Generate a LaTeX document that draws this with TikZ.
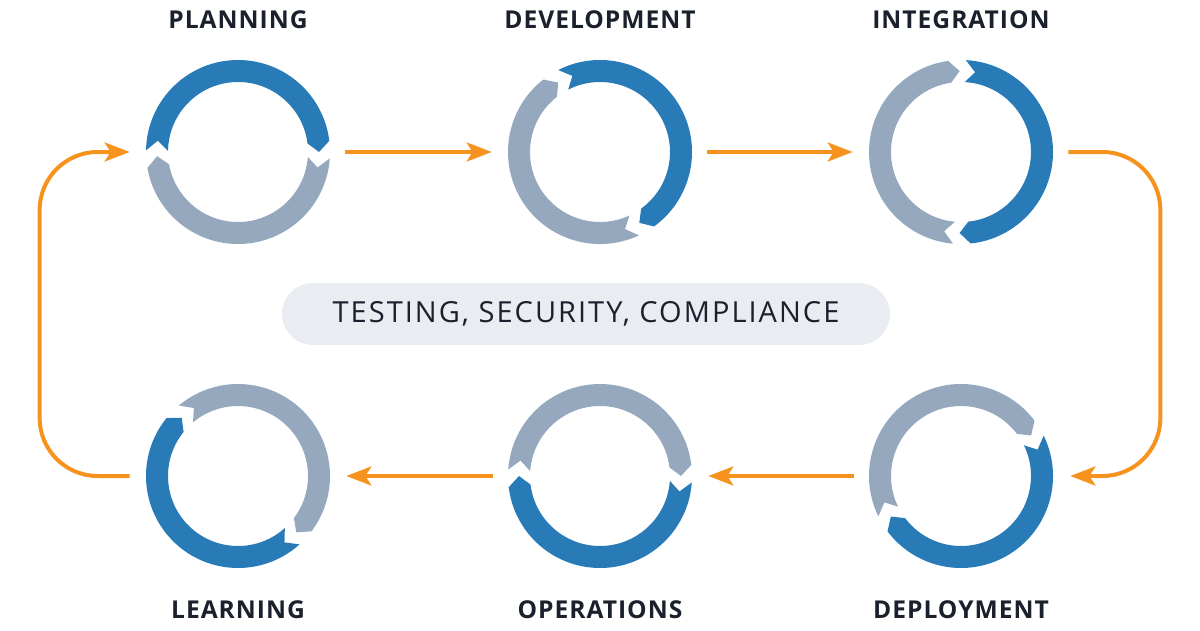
\documentclass[tikz,border=0pt]{standalone}
\usepackage{fontspec}
\setmainfont{Open Sans}
\usetikzlibrary{calc,arrows.meta}

\definecolor{ringblue}{RGB}{41,123,184}
\definecolor{ringgray}{RGB}{150,168,190}
\definecolor{floworange}{RGB}{246,146,30}
\definecolor{pillbg}{RGB}{233,236,241}
\definecolor{labtext}{RGB}{27,32,45}

% one chevron arrow on a ring: node, tail angle, end angle, colour
\newcommand{\ringarrow}[4]{%
	\fill[#4] ($(#1)+(#2:92)$) arc[start angle=#2, end angle=#3, radius=92]
		-- ($(#1)+({#3-7}:81)$) -- ($(#1)+(#3:70)$)
		arc[start angle=#3, end angle=#2, radius=70]
		-- ($(#1)+({#2-7}:81)$) -- cycle;}

\begin{document}
\begin{tikzpicture}[x=0.02cm, y=0.02cm,
		ring/.style={circle, minimum size=3.68cm, inner sep=0pt},
		stage/.style={font=\fontsize{14}{16}\selectfont\bfseries\addfontfeatures{LetterSpace=4},
			text=labtext},
		flow/.style={draw=floworange, line width=0.08cm,
			-{Stealth[length=0.5cm, width=0.38cm, inset=0.12cm]}},
		pill/.style={fill=pillbg, rounded corners=0.62cm, minimum width=12.16cm,
			minimum height=1.24cm, text=labtext,
			font=\fontsize{16.5}{19}\selectfont\addfontfeatures{LetterSpace=7}}]
	\useasboundingbox (0,0) rectangle (1200,630);

	\node[ring] (plan) at (238,478) {};
	\node[ring] (dev) at (600,478) {};
	\node[ring] (integ) at (961,478) {};
	\node[ring] (learn) at (238,154) {};
	\node[ring] (ops) at (600,154) {};
	\node[ring] (deploy) at (961,154) {};

	\ringarrow{plan}{179}{7}{ringblue}
	\ringarrow{plan}{-4}{-170}{ringgray}
	\ringarrow{dev}{117}{-54}{ringblue}
	\ringarrow{dev}{-65}{-232}{ringgray}
	\ringarrow{integ}{87}{-84}{ringblue}
	\ringarrow{integ}{-95}{-262}{ringgray}
	\ringarrow{learn}{-48}{-219}{ringblue}
	\ringarrow{learn}{130}{-37}{ringgray}
	\ringarrow{ops}{-4}{-173}{ringblue}
	\ringarrow{ops}{176}{7}{ringgray}
	\ringarrow{deploy}{26}{-143}{ringblue}
	\ringarrow{deploy}{-154}{-323}{ringgray}

	\node[stage] (planlab) at (238,610) {PLANNING};
	\node[stage] (devlab) at (600,610) {DEVELOPMENT};
	\node[stage] (integlab) at (961,610) {INTEGRATION};
	\node[stage] (learnlab) at (238,20) {LEARNING};
	\node[stage] (opslab) at (600,20) {OPERATIONS};
	\node[stage] (deploylab) at (961,20) {DEPLOYMENT};

	\node[pill] (checks) at (586,316) {TESTING, SECURITY, COMPLIANCE};

	\draw[flow, shorten <=0.3cm, shorten >=0.32cm] (plan) -- (dev);
	\draw[flow, shorten <=0.3cm, shorten >=0.32cm] (dev) -- (integ);
	\draw[flow, rounded corners=1.16cm, shorten <=0.3cm, shorten >=0.34cm]
		(integ.east) -- ++(107,0) |- (deploy.east);
	\draw[flow, shorten <=0.3cm, shorten >=0.32cm] (deploy) -- (ops);
	\draw[flow, shorten <=0.3cm, shorten >=0.32cm] (ops) -- (learn);
	\draw[flow, rounded corners=1.16cm, shorten <=0.32cm, shorten >=0.32cm]
		(learn.west) -- ++(-106,0) |- (plan.west);
\end{tikzpicture}
\end{document}
